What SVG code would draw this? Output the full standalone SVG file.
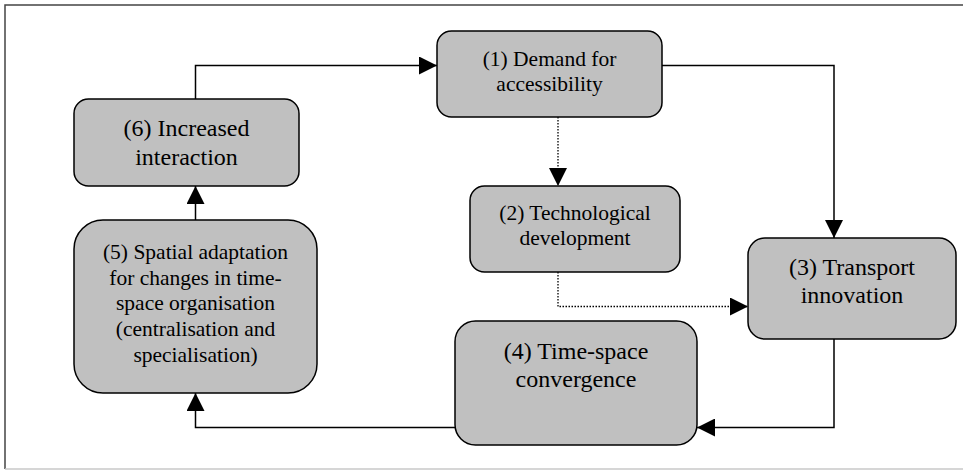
<svg xmlns="http://www.w3.org/2000/svg" width="963" height="470" viewBox="0 0 963 470">
<defs>
<marker id="arr" markerUnits="userSpaceOnUse" markerWidth="18" markerHeight="18" viewBox="0 0 18 18" refX="18" refY="9" orient="auto">
<path d="M0,0 L18,9 L0,18 z" fill="#000"/>
</marker>
</defs>
<rect width="963" height="470" fill="#fff"/>
<g id="frame" fill="none" stroke-width="1.5">
<path d="M963,5 H5 V469" stroke="#444"/>
<path d="M5,469 H963" stroke="#c8c8c8"/>
</g>
<g id="connectors" fill="none" stroke="#000" stroke-width="1.5">
<path d="M195.5,99 V65.5 H437" marker-end="url(#arr)"/>
<path d="M195.5,220 V186" marker-end="url(#arr)"/>
<path d="M662,65.5 H834 V238" marker-end="url(#arr)"/>
<path d="M558,117 V186" stroke-dasharray="1.5 1.5" stroke-width="1.3" marker-end="url(#arr)"/>
<path d="M558,272 V306.5 H748" stroke-dasharray="1.5 1.5" stroke-width="1.3" marker-end="url(#arr)"/>
<path d="M834,339 V427.5 H697" marker-end="url(#arr)"/>
<path d="M455,427.5 H195.5 V393" marker-end="url(#arr)"/>
</g>
<g id="n1">
<rect x="437" y="31" width="225" height="86" rx="14.5" fill="#c0c0c0" stroke="#000" stroke-width="1.5"/>
<text x="549.5" y="66" font-family="Liberation Serif" font-size="21.5" text-anchor="middle">(1) Demand for</text>
<text x="549.5" y="91" font-family="Liberation Serif" font-size="21.5" text-anchor="middle">accessibility</text>
</g>
<g id="n2">
<rect x="470" y="186" width="210" height="86" rx="14.5" fill="#c0c0c0" stroke="#000" stroke-width="1.5"/>
<text x="575" y="220" font-family="Liberation Serif" font-size="21.5" text-anchor="middle">(2) Technological</text>
<text x="575" y="245" font-family="Liberation Serif" font-size="21.5" text-anchor="middle">development</text>
</g>
<g id="n3">
<rect x="748" y="238" width="208" height="101" rx="17" fill="#c0c0c0" stroke="#000" stroke-width="1.5"/>
<text x="852" y="275" font-family="Liberation Serif" font-size="24" text-anchor="middle">(3) Transport</text>
<text x="852" y="303" font-family="Liberation Serif" font-size="24" text-anchor="middle">innovation</text>
</g>
<g id="n4">
<rect x="455" y="321" width="242" height="124" rx="20.5" fill="#c0c0c0" stroke="#000" stroke-width="1.5"/>
<text x="576" y="359" font-family="Liberation Serif" font-size="24" text-anchor="middle">(4) Time-space</text>
<text x="576" y="387" font-family="Liberation Serif" font-size="24" text-anchor="middle">convergence</text>
</g>
<g id="n5">
<rect x="74" y="220" width="243" height="173" rx="29" fill="#c0c0c0" stroke="#000" stroke-width="1.5"/>
<text x="195.5" y="259" font-family="Liberation Serif" font-size="21.5" text-anchor="middle">(5) Spatial adaptation</text>
<text x="195.5" y="285" font-family="Liberation Serif" font-size="21.5" text-anchor="middle">for changes in time-</text>
<text x="195.5" y="310" font-family="Liberation Serif" font-size="21.5" text-anchor="middle">space organisation</text>
<text x="195.5" y="336" font-family="Liberation Serif" font-size="21.5" text-anchor="middle">(centralisation and</text>
<text x="195.5" y="361.5" font-family="Liberation Serif" font-size="21.5" text-anchor="middle">specialisation)</text>
</g>
<g id="n6">
<rect x="74" y="99" width="225" height="87" rx="14.5" fill="#c0c0c0" stroke="#000" stroke-width="1.5"/>
<text x="186.5" y="136" font-family="Liberation Serif" font-size="24" text-anchor="middle">(6) Increased</text>
<text x="186.5" y="165" font-family="Liberation Serif" font-size="24" text-anchor="middle">interaction</text>
</g>
</svg>
